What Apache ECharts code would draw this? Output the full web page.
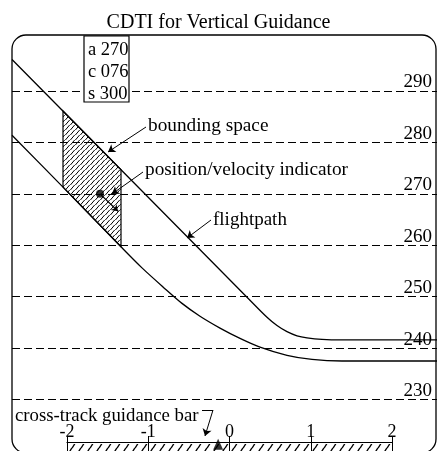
<!DOCTYPE html>
<html>
<head>
<meta charset="utf-8">
<script src="https://cdn.jsdelivr.net/npm/echarts@6/dist/echarts.min.js"></script>
<style>
  html, body { margin: 0; padding: 0; background: #fff; }
  #chart { width: 437px; height: 451px; }
</style>
</head>
<body>
<div id="chart"></div>
<script>
// along-track distance (display units) / altitude (hundreds of ft)
var flightpathX = [0, 4.7, 5.1, 5.3, 5.5, 5.7, 5.9, 6.2, 6.6, 8.5];
var flightpathAlt = [296.1, 249.9, 246.0, 244.4, 243.2, 242.4, 242.0, 241.7, 241.6, 241.6];
var lowerX = [0, 1.02, 2.18, 2.6, 3.02, 3.4, 3.76, 4.16, 4.56, 4.96, 5.5, 6.0, 6.6, 8.5];
var lowerAlt = [281.4, 271.3, 259.7, 255.6, 251.9, 248.7, 246.2, 243.9, 241.9, 240.2, 238.6, 237.8, 237.5, 237.5];
var altTicks = [230, 240, 250, 260, 270, 280, 290];

// bounding space, between the two paths
var boundX = [1.02, 2.18];
var boundTop = [286.1, 274.7];
var boundBottom = [271.3, 259.7];

// position / velocity indicator
var posIndicator = [1.76, 270];
var velocityEnd = [2.12, 266.6];

// cross-track guidance bar
var crossTicks = [-2, -1, 0, 1, 2];
var crossTrack = -0.14;

var readout = ['a 270', 'c 076', 's 300'];

var serif = 'Liberation Serif';

// hatch texture: "/" strokes on a w x h tile
function hatch(w, h, lw) {
  var c = document.createElement('canvas');
  c.width = w; c.height = h;
  var g = c.getContext('2d');
  g.strokeStyle = '#000';
  g.lineWidth = lw;
  g.beginPath();
  [-w, 0, w].forEach(function (dx) {
    g.moveTo(dx - 0.5, h + 1);
    g.lineTo(dx + w + 0.5, -1);
  });
  g.stroke();
  return { image: c, repeat: 'repeat' };
}
var hatchFine = hatch(5, 5, 1);
var hatchBar = hatch(9, 14, 1.4);

var chart = echarts.init(document.getElementById('chart'));

chart.setOption({
  animation: false,
  backgroundColor: '#fff',
  title: {
    text: 'CDTI for Vertical Guidance',
    left: 'center',
    top: 8,
    textStyle: { fontFamily: serif, fontSize: 20, fontWeight: 'normal', color: '#000' }
  },
  grid: [
    { left: 12, top: 39.5, width: 425, height: 420 },
    { left: 67, top: 442, width: 325, height: 30 }
  ],
  xAxis: [
    { gridIndex: 0, type: 'value', min: 0, max: 8.5, show: false },
    {
      gridIndex: 1, type: 'value', min: -2, max: 2, interval: 1, position: 'top',
      axisLine: { onZero: false, lineStyle: { color: '#000', width: 1.2 } },
      axisTick: { length: 6, lineStyle: { color: '#000', width: 1 } },
      axisLabel: { color: '#000', fontFamily: serif, fontSize: 18, margin: 1 },
      splitLine: { show: true, lineStyle: { color: '#000', width: 1 } }
    }
  ],
  yAxis: [
    { gridIndex: 0, type: 'value', min: 220, max: 300, show: false },
    { gridIndex: 1, type: 'value', min: 0, max: 1, show: false }
  ],
  graphic: [
    {
      type: 'rect', z: 0,
      shape: { x: 12, y: 35, width: 424, height: 418, r: 14 },
      style: { fill: 'none', stroke: '#000', lineWidth: 1.3 }
    },
    {
      type: 'rect', z: 10,
      shape: { x: 84, y: 36, width: 45, height: 66 },
      style: { fill: '#fff', stroke: '#000', lineWidth: 1.2 }
    },
    {
      type: 'text', z: 11, left: 88, top: 39,
      style: { text: readout.join('\n'), fontFamily: serif, fontSize: 18.5, lineHeight: 22, fill: '#000' }
    },
    {
      type: 'text', z: 11, x: 148, y: 126,
      style: { text: 'bounding space', fontFamily: serif, fontSize: 19.3, fill: '#000', verticalAlign: 'middle' }
    },
    {
      type: 'text', z: 11, x: 145, y: 170,
      style: { text: 'position/velocity indicator', fontFamily: serif, fontSize: 19.3, fill: '#000', verticalAlign: 'middle' }
    },
    {
      type: 'text', z: 11, x: 213, y: 220,
      style: { text: 'flightpath', fontFamily: serif, fontSize: 19, fill: '#000', verticalAlign: 'middle' }
    },
    {
      type: 'text', z: 11, x: 15, y: 416,
      style: { text: 'cross-track guidance bar', fontFamily: serif, fontSize: 18.8, fill: '#000', verticalAlign: 'middle' }
    }
  ],
  series: [
    {
      name: 'flightpath',
      type: 'line',
      xAxisIndex: 0, yAxisIndex: 0,
      data: flightpathX.map(function (x, i) { return [x, flightpathAlt[i]]; }),
      smooth: 0.3,
      symbol: 'none',
      lineStyle: { color: '#000', width: 1.3 },
      markLine: {
        silent: true,
        symbol: 'none',
        lineStyle: { color: '#000', width: 1.2, type: [8, 4] },
        label: {
          position: 'insideEndTop',
          distance: [5, -1],
          formatter: function (p) { return p.value; },
          fontFamily: serif, fontSize: 19, color: '#000'
        },
        data: altTicks.map(function (v) { return { yAxis: v }; })
      }
    },
    {
      name: 'lower',
      type: 'line',
      xAxisIndex: 0, yAxisIndex: 0,
      data: lowerX.map(function (x, i) { return [x, lowerAlt[i]]; }),
      smooth: 0.3,
      symbol: 'none',
      lineStyle: { color: '#000', width: 1.3 },
      markLine: {
        silent: true,
        symbol: ['none', 'arrow'],
        symbolSize: 7,
        lineStyle: { color: '#000', width: 1, type: 'solid' },
        itemStyle: { color: '#000' },
        label: { show: false },
        data: [
          [{ x: 146, y: 127 }, { x: 108, y: 152 }],
          [{ x: 143, y: 172 }, { x: 112, y: 194 }],
          [{ x: 211, y: 220 }, { x: 187, y: 238 }],
          [{ x: 202, y: 410 }, { x: 213, y: 410, symbol: 'none' }],
          [{ x: 213, y: 410 }, { x: 205, y: 436 }]
        ]
      }
    },
    {
      name: 'bounding space',
      type: 'custom',
      xAxisIndex: 0, yAxisIndex: 0,
      data: [0],
      renderItem: function (params, api) {
        var pts = [
          api.coord([boundX[0], boundTop[0]]),
          api.coord([boundX[1], boundTop[1]]),
          api.coord([boundX[1], boundBottom[1]]),
          api.coord([boundX[0], boundBottom[0]])
        ];
        return {
          type: 'polygon',
          shape: { points: pts },
          style: { fill: hatchFine, stroke: '#000', lineWidth: 1.2 }
        };
      }
    },
    {
      name: 'position',
      type: 'scatter',
      xAxisIndex: 0, yAxisIndex: 0,
      data: [posIndicator],
      symbolSize: 8,
      itemStyle: { color: '#000' },
      markLine: {
        silent: true,
        symbol: ['none', 'arrow'],
        symbolSize: 6,
        lineStyle: { color: '#000', width: 1.2, type: 'solid' },
        label: { show: false },
        data: [[{ coord: posIndicator }, { coord: velocityEnd }]]
      }
    },
    {
      name: 'guidance bar',
      type: 'custom',
      xAxisIndex: 1, yAxisIndex: 1,
      data: [0],
      z: 1,
      renderItem: function (params, api) {
        var a = api.coord([crossTicks[0], 1]);
        var b = api.coord([crossTicks[crossTicks.length - 1], 0]);
        return {
          type: 'rect',
          shape: { x: a[0], y: a[1] + 2, width: b[0] - a[0], height: b[1] - a[1] },
          style: { fill: hatchBar }
        };
      }
    },
    {
      name: 'cross-track',
      type: 'scatter',
      xAxisIndex: 1, yAxisIndex: 1,
      data: [[crossTrack, 0.75]],
      symbol: 'triangle',
      symbolSize: [10, 11],
      itemStyle: { color: '#000' },
      z: 5
    }
  ]
});
</script>
</body>
</html>
